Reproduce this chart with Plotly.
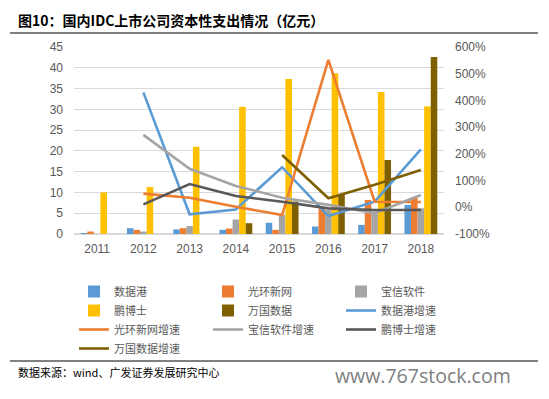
import plotly.graph_objects as go

years = ["2011", "2012", "2013", "2014", "2015", "2016", "2017", "2018"]

# capex (亿元)
sjg = [0.2, 1.4, 1.1, 1.0, 2.7, 1.8, 2.2, 7.0]
ghxw = [0.6, 1.0, 1.4, 1.3, 1.0, 6.2, 8.2, 8.8]
bxrj = [0.0, 0.6, 1.9, 3.5, 4.6, 5.8, 5.4, 6.2]
pbs = [10.0, 11.3, 21.0, 30.6, 37.3, 38.7, 34.2, 30.7]
wgsj = [None, None, None, 2.6, 7.8, 9.6, 17.8, 42.6]

# growth rates (%)
sjg_g = [None, 430, -26, -8, 150, -33, 21, 217]
ghxw_g = [None, 51, 36, 2, -29, 552, 21, 20]
bxrj_g = [None, 271, 144, 80, 36, 9, -22, 46]
pbs_g = [None, 11, 87, 42, 21, -4, -10, -10]
wgsj_g = [None, None, None, None, 196, 34, 84, 140]

left_ticks = [0, 5, 10, 15, 20, 25, 30, 35, 40, 45]
right_ticks = [-100, 0, 100, 200, 300, 400, 500, 600]
right_labels = [f"{v}%" for v in right_ticks]

C_BLUE = "#5B9BD5"
C_ORANGE = "#ED7D31"
C_GREY = "#A5A5A5"
C_GOLD = "#FFC000"
C_BROWN = "#7F6000"
C_DARK = "#595959"

# the page body has an 8px default margin: work in page pixels, shift by 8
OFF = 8
W, H = 549 - 2 * OFF, 399 - 2 * OFF
L, R, T, B = 74 - OFF, 444 - OFF, 47 - OFF, 234 - OFF


def px(x):
    """page x pixel -> paper coordinate"""
    return (x - OFF - L) / (R - L)


def py(y):
    """page y pixel -> paper coordinate"""
    return (B - (y - OFF)) / (B - T)


# legend column assignment (reading order of the reference, 3 per row)
bar_specs = [("数据港", sjg, C_BLUE, "legend"), ("光环新网", ghxw, C_ORANGE, "legend2"),
             ("宝信软件", bxrj, C_GREY, "legend3"), ("鹏博士", pbs, C_GOLD, "legend"),
             ("万国数据", wgsj, C_BROWN, "legend2")]
line_specs = [("数据港增速", sjg_g, C_BLUE, "legend3"), ("光环新网增速", ghxw_g, C_ORANGE, "legend"),
              ("宝信软件增速", bxrj_g, C_GREY, "legend2"), ("鹏博士增速", pbs_g, C_DARK, "legend3"),
              ("万国数据增速", wgsj_g, C_BROWN, "legend")]

fig = go.Figure()
for name, vals, col, lg in bar_specs:
    fig.add_trace(go.Bar(x=years, y=vals, name=name, marker_color=col,
                         marker_line_width=0, legend=lg))

for name, vals, col, lg in line_specs:
    fig.add_trace(go.Scatter(x=years, y=vals, name=name, yaxis="y2", mode="lines",
                             line=dict(color=col, width=2.6), legend=lg))

tickfont = dict(family="Liberation Sans, Arial", size=12, color="#595959")
legfont = dict(family="Noto Sans CJK SC", size=11, color="#595959")


def leg(xpage):
    return dict(orientation="v", x=px(xpage), y=py(277), xanchor="left", yanchor="top",
                font=legfont, itemwidth=30, tracegroupgap=0,
                bgcolor="rgba(0,0,0,0)", traceorder="normal")


fig.update_layout(
    width=W, height=H,
    margin=dict(l=L, r=W - R, t=T, b=H - B, pad=0, autoexpand=False),
    paper_bgcolor="white", plot_bgcolor="white",
    barmode="group", bargap=0.29, bargroupgap=0,
    xaxis=dict(type="category", tickfont=tickfont, showgrid=False,
               showline=False, ticks="", ticklabelstandoff=6),
    yaxis=dict(range=[0, 45], tickvals=left_ticks, tickfont=tickfont,
               showgrid=True, gridcolor="#D9D9D9", gridwidth=1,
               zeroline=True, zerolinecolor="#D9D9D9", ticks="",
               ticklabelstandoff=10),
    yaxis2=dict(overlaying="y", side="right", range=[-100, 600],
                tickvals=right_ticks, ticktext=right_labels, tickfont=tickfont,
                showgrid=False, zeroline=False, ticks="", ticklabelstandoff=10),
    legend=leg(74),
    legend2=leg(208),
    legend3=leg(341),
    showlegend=True,
)

fig.add_annotation(text="<b>图10：国内IDC上市公司资本性支出情况（亿元）</b>",
                   xref="paper", yref="paper", x=px(16), y=py(8),
                   xanchor="left", yanchor="top", showarrow=False,
                   font=dict(family="Noto Sans CJK SC", size=14, color="#000000"))
fig.add_annotation(text="数据来源：wind、广发证券发展研究中心",
                   xref="paper", yref="paper", x=px(16), y=py(372),
                   xanchor="left", yanchor="middle", showarrow=False,
                   font=dict(family="Noto Sans CJK SC", size=11, color="#000000"))
fig.add_annotation(text="www.767stock.com",
                   xref="paper", yref="paper", x=px(513), y=py(391),
                   xanchor="right", yanchor="bottom", showarrow=False,
                   font=dict(family="Open Sans", size=19.5, color="#7F7F7F"))

for yline in (33, 361):
    fig.add_shape(type="line", xref="paper", yref="paper",
                  x0=px(10), x1=px(538), y0=py(yline), y1=py(yline),
                  line=dict(color="#000000", width=1))

fig.write_html("out.html")
